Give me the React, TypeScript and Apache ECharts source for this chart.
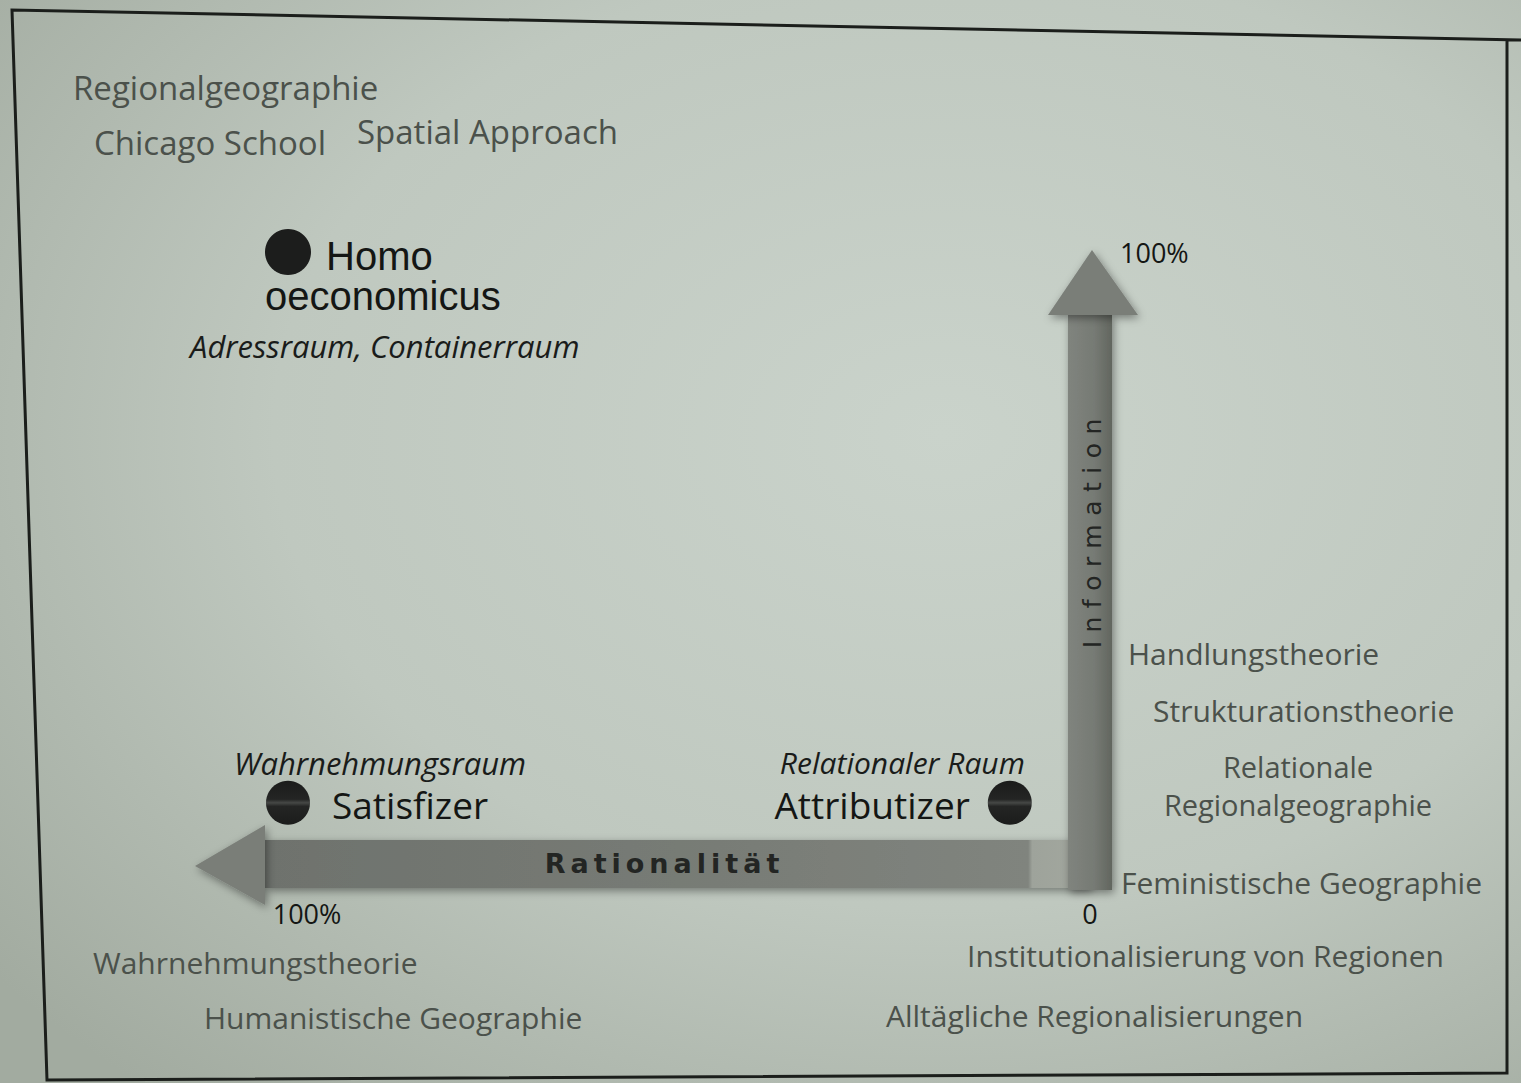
import React, { useEffect, useRef } from 'react';
import * as echarts from 'echarts';

// ---- data ----
const actors = ['Homo oeconomicus', 'Satisfizer', 'Attributizer'];
const rationalityPct = [100, 100, 10];
const informationPct = [100, 10, 10];
const spaceConcepts = ['Adressraum, Containerraum', 'Wahrnehmungsraum', 'Relationaler Raum'];

const xTickValues = [0, 100];
const xTickLabels = ['0', '100%'];
const yTickValues = [0, 100];
const yTickLabels = ['', '100%'];
const axisNames = ['Rationalität', 'Information'];

const topLeftApproaches = ['Regionalgeographie', 'Chicago School', 'Spatial Approach'];
const rightTheories = ['Handlungstheorie', 'Strukturationstheorie', 'Relationale', 'Regionalgeographie', 'Feministische Geographie'];
const bottomRightTheories = ['Institutionalisierung von Regionen', 'Alltägliche Regionalisierungen'];
const bottomLeftTheories = ['Wahrnehmungstheorie', 'Humanistische Geographie'];

const FONT = "'Open Sans', 'Noto Sans', sans-serif";
const TIGHT_FONT = "'Liberation Sans', 'Open Sans', sans-serif";
const GRAY = '#4b514b';
const INK = '#141614';

function labelFor(i: number): any {
  const concept = spaceConcepts[i];
  if (i === 0) {
    const [a, b] = actors[0].split(' ');
    return {
      show: true,
      position: [-75, 7],
      align: 'left',
      verticalAlign: 'top',
      formatter: `{sp1| }{big|${a}}\n{sp2| }{big|${b}}\n{it|${concept}}`,
      rich: {
        sp1: { width: 136, lineHeight: 40, fontSize: 10 },
        sp2: { width: 75, lineHeight: 40, fontSize: 10 },
        big: { fontSize: 40, lineHeight: 40, color: INK, fontFamily: TIGHT_FONT },
        it: { fontSize: 31, fontStyle: 'italic', lineHeight: 60, color: '#1a1c1a', fontFamily: FONT },
      },
    };
  }
  if (i === 1) {
    return {
      show: true,
      position: [-32, -40],
      align: 'left',
      verticalAlign: 'top',
      formatter: `{it|${concept}}\n{sp| }{big|${actors[i]}}`,
      rich: {
        it: { fontSize: 31, fontStyle: 'italic', lineHeight: 44, color: '#1a1c1a', fontFamily: FONT },
        sp: { width: 98, lineHeight: 40, fontSize: 10 },
        big: { fontSize: 37, lineHeight: 40, color: INK, fontFamily: FONT },
      },
    };
  }
  return {
    show: true,
    position: [37, -40],
    align: 'right',
    verticalAlign: 'top',
    formatter: `{it|${concept}}\n{big|${actors[i]}}{sp| }`,
    rich: {
      it: { fontSize: 30, fontStyle: 'italic', lineHeight: 44, color: '#1a1c1a', fontFamily: FONT, align: 'right' },
      sp: { width: 55, lineHeight: 40, fontSize: 10, align: 'right' },
      big: { fontSize: 37, lineHeight: 40, color: INK, fontFamily: FONT, align: 'right' },
    },
  };
}

function txt(text: string, x: number, y: number, size: number, extra: any = {}): any {
  return {
    type: 'text',
    x,
    y,
    silent: true,
    style: {
      text,
      fontSize: size,
      fontFamily: FONT,
      fill: GRAY,
      align: 'left',
      textAlign: 'left',
      verticalAlign: 'middle',
      textVerticalAlign: 'middle',
      ...extra,
    },
  };
}

const TRACK_H = 5;
const TRACK_V = 8.5;

function buildGraphic(O: number[], T: number[], L: number[]): any[] {
  const ox = O[0];
  const oy = O[1];
  const ty = T[1];
  const lx = L[0];
  const shadow = { shadowBlur: 9, shadowColor: 'rgba(0,0,0,0.4)', shadowOffsetX: 2, shadowOffsetY: 3 };
  const els: any[] = [];
  els.push({
    type: 'rect',
    z: -100,
    silent: true,
    shape: { x: 0, y: 0, width: 1521, height: 1083 },
    style: {
      fill: new echarts.graphic.RadialGradient(0.62, 0.4, 0.8, [
        { offset: 0, color: '#cad3cb' },
        { offset: 0.55, color: '#bfc8bf' },
        { offset: 1, color: '#a2aba0' },
      ]),
    },
  });
  els.push({
    type: 'polyline',
    silent: true,
    shape: { points: [[1521, 40], [12, 10], [47, 1080], [1507, 1073], [1507, 39]] },
    style: { stroke: '#1b1e1b', lineWidth: 3, fill: null },
  });
  // horizontal arrow (Rationalität)
  const hx0 = lx - 23;
  els.push({
    type: 'rect',
    silent: true,
    shape: { x: hx0, y: oy - 24, width: ox - hx0, height: 48 },
    style: {
      fill: new echarts.graphic.LinearGradient(0, 0, 1, 0, [
        { offset: 0, color: '#6e726d' },
        { offset: 0.5, color: '#777b75' },
        { offset: 0.925, color: '#80847e' },
        { offset: 0.93, color: '#9ea39b' },
        { offset: 1, color: '#a3a89f' },
      ]),
      ...shadow,
    },
  });
  els.push({
    type: 'polygon',
    silent: true,
    shape: { points: [[lx - 93, oy + 2], [hx0, oy - 39], [hx0, oy + 41]] },
    style: { fill: '#7a7e78', ...shadow },
  });
  // vertical arrow (Information)
  els.push({
    type: 'rect',
    silent: true,
    shape: { x: ox - 22, y: ty + 63, width: 44, height: oy + 26 - (ty + 63) },
    style: {
      fill: new echarts.graphic.LinearGradient(0, 0, 1, 0, [
        { offset: 0, color: '#80847e' },
        { offset: 0.6, color: '#767a74' },
        { offset: 1, color: '#62665f' },
      ]),
      ...shadow,
    },
  });
  els.push({
    type: 'polygon',
    silent: true,
    shape: { points: [[ox + 2, ty - 2], [ox - 42, ty + 63], [ox + 48, ty + 63]] },
    style: { fill: '#7a7e78', ...shadow },
  });
  // axis names
  els.push(
    txt(axisNames[0], 662 + TRACK_H / 2, oy - 1, 27, {
      fontFamily: "'DejaVu Sans', sans-serif",
      fontWeight: 'bold',
      fill: '#232523',
      align: 'center',
      textAlign: 'center',
    })
  );
  els.push({
    ...txt(axisNames[1], 0, 0, 25, {
      fontFamily: "'DejaVu Sans', sans-serif",
      fill: '#232523',
      align: 'center',
      textAlign: 'center',
    }),
    x: ox + 2,
    y: 525 + TRACK_V / 2,
    rotation: Math.PI / 2,
  });
  // approaches / theories
  els.push(txt(topLeftApproaches[0], 73, 87, 33));
  els.push(txt(topLeftApproaches[1], 94, 142, 33));
  els.push(txt(topLeftApproaches[2], 357, 131, 33));
  els.push(txt(rightTheories[0], 1128, 653, 30));
  els.push(txt(rightTheories[1], 1153, 710, 30));
  els.push(txt(rightTheories[2], 1298, 766, 29, { align: 'center', textAlign: 'center' }));
  els.push(txt(rightTheories[3], 1298, 804, 29, { align: 'center', textAlign: 'center' }));
  els.push(txt(rightTheories[4], 1121, 882, 30));
  els.push(txt(bottomRightTheories[0], 967, 955, 30));
  els.push(txt(bottomRightTheories[1], 886, 1015, 30));
  els.push(txt(bottomLeftTheories[0], 93, 962, 30));
  els.push(txt(bottomLeftTheories[1], 204, 1017, 30));
  return els;
}

function applyTracking(root: HTMLElement) {
  root.querySelectorAll('text').forEach((t) => {
    const s = (t.textContent || '').trim();
    if (s === axisNames[0]) t.setAttribute('letter-spacing', String(TRACK_H));
    if (s === axisNames[1]) t.setAttribute('letter-spacing', String(TRACK_V));
  });
}

const markerFill = (i: number) =>
  i === 0
    ? '#1c1d1c'
    : new echarts.graphic.LinearGradient(0, 0, 0, 1, [
        { offset: 0, color: '#1b1c1b' },
        { offset: 0.42, color: '#242524' },
        { offset: 0.5, color: '#464846' },
        { offset: 0.58, color: '#242524' },
        { offset: 1, color: '#1b1c1b' },
      ]);

export default function App() {
  const ref = useRef<HTMLDivElement>(null);
  useEffect(() => {
    if (!ref.current) return;
    const chart = echarts.init(ref.current, null, { renderer: 'svg' });
    chart.setOption({
      animation: false,
      backgroundColor: '#c3cbc3',
      grid: { left: 288, right: 431, top: 252, bottom: 219 },
      xAxis: {
        type: 'value',
        inverse: true,
        min: 0,
        max: 100,
        interval: 100,
        axisLine: { show: false },
        axisTick: { show: false },
        splitLine: { show: false },
        axisLabel: {
          margin: 36,
          fontSize: 27,
          fontFamily: FONT,
          color: INK,
          formatter: (v: number) => {
            const s = xTickLabels[xTickValues.indexOf(v)] ?? '';
            return v === 100 ? `{far|${s}}` : `{o|${s}}`;
          },
          rich: {
            far: { fontSize: 27, fontFamily: FONT, color: INK, padding: [0, 0, 0, 38] },
            o: { fontSize: 27, fontFamily: FONT, color: INK },
          },
        },
      },
      yAxis: {
        type: 'value',
        position: 'right',
        min: 0,
        max: 100,
        interval: 100,
        axisLine: { show: false },
        axisTick: { show: false },
        splitLine: { show: false },
        axisLabel: {
          margin: 30,
          fontSize: 27,
          fontFamily: FONT,
          color: INK,
          formatter: (v: number) => yTickLabels[yTickValues.indexOf(v)] ?? '',
        },
      },
      series: [
        {
          type: 'scatter',
          z: 5,
          data: actors.map((name, i) => ({
            name,
            value: [rationalityPct[i], informationPct[i]],
            symbolSize: i === 0 ? 46 : 44,
            itemStyle: { color: markerFill(i), opacity: 1 },
            label: labelFor(i),
          })),
          emphasis: { disabled: true },
        },
      ],
    });
    const O = chart.convertToPixel({ gridIndex: 0 }, [0, 0]) as number[];
    const T = chart.convertToPixel({ gridIndex: 0 }, [0, 100]) as number[];
    const L = chart.convertToPixel({ gridIndex: 0 }, [100, 0]) as number[];
    chart.setOption({ graphic: buildGraphic(O, T, L) });
    applyTracking(ref.current);
    const onRendered = () => ref.current && applyTracking(ref.current);
    chart.on('finished', onRendered);
    return () => chart.dispose();
  }, []);
  return <div ref={ref} style={{ position: 'absolute', left: 0, top: 0, width: 1521, height: 1083 }} />;
}
